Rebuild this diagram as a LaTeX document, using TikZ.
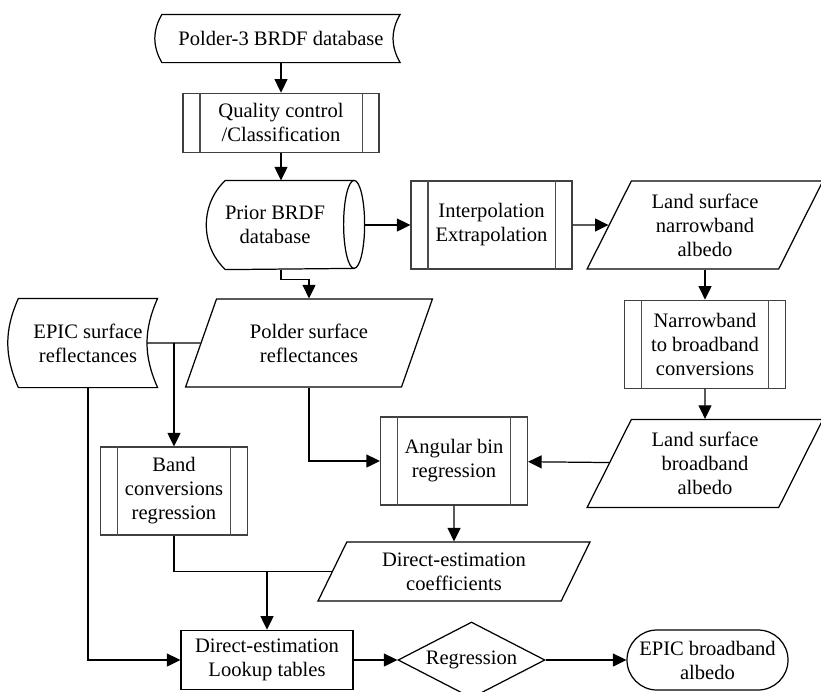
\documentclass[tikz,border=0pt]{standalone}
\usepackage{fontspec}
\setmainfont{Liberation Serif}
\usetikzlibrary{arrows.meta}
\usetikzlibrary{positioning}
\usetikzlibrary{shapes.geometric}

\begin{document}
\begin{tikzpicture}[line width=0.7pt,>={Triangle[length=2.7mm,width=2.6mm]},
  every node/.style={align=center,inner sep=0pt,font=\fontsize{11.7}{13.7}\selectfont},
  proc/.style={draw=black!75,rectangle,minimum height=1.76cm,
    append after command={([xshift=0.35cm]\tikzlastnode.north west) edge[draw=black!70] ([xshift=0.35cm]\tikzlastnode.south west)
      ([xshift=-0.35cm]\tikzlastnode.north east) edge[draw=black!70] ([xshift=-0.35cm]\tikzlastnode.south east)}},
  data/.style={draw,trapezium,trapezium left angle=63,trapezium right angle=117,
    trapezium stretches=true,minimum height=1.76cm},
  store/.style={minimum height=1.76cm},
  outline/.style={draw}]
  \useasboundingbox (0,0) rectangle (16.42,-13.82);

  % top chain
  \node[store,minimum width=4.74cm,minimum height=0.94cm] (db3) at (5.62,-0.77) {Polder-3 BRDF database};
  \node[proc,minimum width=3.92cm,minimum height=1.18cm,below=0.6cm of db3] (qc) {Quality control\\/Classification};
  \node[store,minimum width=2.72cm] (prior) at (5.50,-4.50) {Prior BRDF\\database};
  \node[proc,minimum width=3.22cm] (interp) at (9.83,-4.50) {Interpolation\\Extrapolation};
  \node[data,minimum width=4.76cm] (nba) at (14.10,-4.50) {Land surface\\narrowband\\albedo};
  \node[proc,minimum width=3.22cm,below=0.6cm of nba] (nbc) {Narrowband\\to broadband\\conversions};
  \node[data,minimum width=4.76cm,below=0.6cm of nbc] (bba) {Land surface\\broadband\\albedo};

  % middle
  \node[store,minimum width=2.76cm] (epic) at (1.76,-6.86) {EPIC surface\\reflectances};
  \node[data,minimum width=4.96cm] (psr) at (6.18,-6.86) {Polder surface\\reflectances};
  \node[proc,minimum width=2.95cm] (bc) at (3.48,-9.82) {Band\\conversions\\regression};
  \node[proc,minimum width=2.94cm] (ang) at (9.08,-9.22) {Angular bin\\regression};
  \node[data,minimum width=5.44cm,minimum height=1.18cm] (dec) at (9.08,-11.43) {Direct-estimation\\coefficients};

  % bottom row
  \node[draw,minimum width=3.44cm,minimum height=1.19cm] (lut) at (5.34,-13.20) {Direct-estimation\\Lookup tables};
  \node[draw,diamond,aspect=1.93,minimum width=2.94cm,minimum height=1.52cm] (reg) at (9.43,-13.20) {Regression};
  \node[draw,rounded corners=0.6cm,minimum width=3.22cm,minimum height=1.20cm] (out) at (14.15,-13.20) {EPIC broadband\\albedo};

  % outlines of the storage shapes
  \draw[outline] (db3.north west) to[out=-120,in=120] (db3.south west) -- (db3.south east)
    to[out=120,in=-120] (db3.north east) -- cycle;
  \draw[outline] (epic.north west) to[out=-114,in=114] (epic.south west) -- (epic.south east)
    to[out=114,in=-114] (epic.north east) -- cycle;
  \draw[outline] ([xshift=0.38cm]prior.north west) -- ([xshift=0.21cm]prior.north east)
    arc[start angle=90,end angle=-90,x radius=0.21cm,y radius=0.88cm]
    -- ([xshift=0.38cm]prior.south west) to[out=137,in=-137] ([xshift=0.38cm]prior.north west);
  \draw[outline] ([xshift=0.21cm]prior.north east) arc[start angle=90,end angle=270,x radius=0.21cm,y radius=0.88cm];

  % connectors
  \draw[->] (qc.north |- db3.south) -- (qc.north);
  \draw[->] (qc.south) -- (qc.south |- prior.north);
  \draw[->] ([xshift=0.42cm]prior.east) -- (interp);
  \draw[->] (interp) -- (nba);
  \draw[->] (nbc.north |- nba.south) -- (nbc.north);
  \draw[->] (nbc) -- (bba);
  \draw[->] (bba) -- (ang);
  \draw[->] (qc.south |- prior.south) -- ++(0,-0.2) -| (psr.north);
  \draw ([xshift=-0.21cm]epic.east) -- (psr);
  \draw[->] (bc.north |- psr.left side) -- (bc.north);
  \draw[->] (psr.south) |- (ang.west);
  \draw[->] (ang) -- (dec);
  \draw (bc.south) |- (dec.left side);
  \draw[->] (lut.north |- dec.left side) -- (lut.north);
  \draw[->] (epic.south) |- (lut.west);
  \draw[->] (lut) -- (reg);
  \draw[->] (reg) -- (out);
\end{tikzpicture}
\end{document}
